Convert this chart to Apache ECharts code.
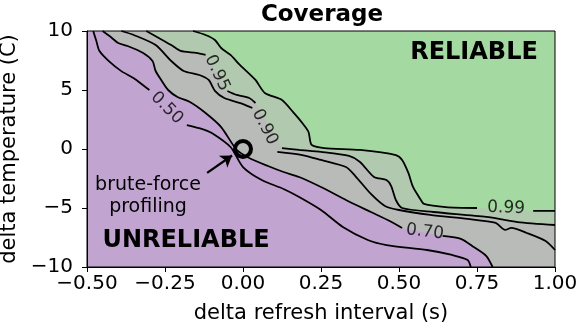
<!DOCTYPE html>
<html>
<head>
<meta charset="utf-8">
<script src="https://cdn.jsdelivr.net/npm/echarts@6/dist/echarts.min.js"></script>
<style>
html, body { margin: 0; padding: 0; background: #fff; }
#main { width: 581px; height: 329px; }
</style>
</head>
<body>
<div id="main"></div>
<script>
// contour lines, null = gap where the level label sits
var contour050 = [[-0.48, 10], [-0.47, 9.15], [-0.46, 8.3], [-0.43, 7.45], [-0.39, 6.6], [-0.35, 6.0], [-0.32, 5.4], [-0.30, 5.0], null,
    [-0.18, 2.03], [-0.13, 1.69], [-0.10, 1.36], [-0.04, 0.17], [0.0, -1.53], [0.06, -2.63], [0.13, -3.39], [0.18, -4.07],
    [0.25, -5.17], [0.32, -6.61], [0.40, -7.71], [0.46, -8.14], [0.59, -8.56], [0.67, -8.98], [0.72, -9.41], [0.73, -10]];
var contour070 = [[-0.45, 10], [-0.42, 9.41], [-0.40, 8.98], [-0.37, 8.73], [-0.32, 8.14], [-0.29, 7.46], [-0.28, 6.61], [-0.26, 5.76],
    [-0.24, 5.0], [-0.21, 4.41], [-0.17, 3.98], [-0.12, 3.05], [-0.07, 1.86], [-0.02, -0.08], [0.02, -0.76], [0.08, -1.44],
    [0.13, -1.95], [0.18, -2.37], [0.25, -3.22], [0.33, -4.32], [0.41, -5.34], [0.47, -6.10], [0.51, -6.69], null,
    [0.64, -7.37], [0.70, -7.63], [0.74, -8.31], [0.78, -9.07], [0.80, -10]];
var contour090 = [[-0.39, 10], [-0.35, 9.66], [-0.28, 8.81], [-0.23, 7.46], [-0.19, 6.61], [-0.14, 6.27], [-0.11, 5.85], [-0.09, 4.92],
    [-0.06, 4.32], [0.0, 3.81], [0.03, 3.47], null, [0.11, -0.25], [0.19, -0.51], [0.25, -0.93], [0.33, -1.53], [0.36, -2.29],
    [0.41, -3.81], [0.455, -4.83], [0.50, -5.17], [0.60, -5.59], [0.72, -5.93], [0.81, -6.27], [0.84, -6.86], [0.86, -6.69],
    [0.91, -7.12], [0.97, -7.80], [1.0, -8.56]];
var contour095 = [[-0.31, 10], [-0.27, 9.41], [-0.23, 8.81], [-0.20, 8.31], [-0.15, 8.14], [-0.12, 7.97], null, [-0.05, 4.92],
    [-0.02, 4.58], [0.02, 4.32], [0.04, 3.90], null, [0.125, 0.08], [0.18, -0.08], [0.25, -0.25], [0.34, -0.59], [0.375, -1.10],
    [0.42, -2.37], [0.46, -2.63], [0.475, -3.14], [0.49, -4.32], [0.51, -5.0], [0.61, -5.34], [0.78, -5.76], [0.88, -6.19], [1.0, -6.44]];
var contour099 = [[-0.16, 10], [-0.12, 9.66], [-0.09, 9.24], [-0.07, 8.56], [-0.04, 7.97], [-0.01, 7.12], [0.04, 5.85], [0.07, 4.75],
    [0.125, 4.15], [0.16, 3.14], [0.19, 2.20], [0.21, 1.44], [0.22, 0.34], [0.26, 0.08], [0.375, -0.08], [0.49, -0.51], [0.51, -0.93],
    [0.53, -2.03], [0.545, -3.22], [0.57, -4.32], [0.58, -4.66], [0.65, -4.92], [0.75, -5.0], null, [0.93, -5.25], [1.0, -5.25]];

var levelNames = ['0.50', '0.70', '0.90', '0.95', '0.99'];
var levelLabelPos = [[-0.244, 3.47], [0.583, -7.03], [0.07, 1.86], [-0.083, 6.44], [0.843, -5.0]];
var levelLabelAngle = [-45, -7, -63, -65, -2];

var regionColors = ['#c2a4d0', '#b9bbb9', '#b1c9ae', '#a4d9a1'];
var profilingPoint = [0, 0];
var arrowFrom = [-0.115, -2.03];
var arrowTo = [-0.035, -0.55];

var xMin = -0.5, xMax = 1.0, yMin = -10, yMax = 10;

function clean(arr) {
    return arr.filter(function (p) { return p; });
}
// filled bands: below 0.70 purple, 0.70-0.95 gray, 0.95-0.99 grey-green, above 0.99 green
var regions = [
    [[xMin, yMin], [xMin, yMax], [xMax, yMax], [xMax, yMin]],
    clean(contour070).concat([[xMax, yMin], [xMax, yMax]]),
    clean(contour095).concat([[xMax, yMax]]),
    clean(contour099).concat([[xMax, yMax]])
];

function minus(s) {
    return String(s).replace('-', '\u2212');
}

var font = 'DejaVu Sans';
var chart = echarts.init(document.getElementById('main'));

var contourSeries = [contour050, contour070, contour090, contour095, contour099].map(function (arr, i) {
    return {
        type: 'line',
        name: levelNames[i],
        data: arr.map(function (p) { return p ? p : ['-', '-']; }),
        showSymbol: false,
        symbol: 'none',
        smooth: 0.25,
        connectNulls: false,
        lineStyle: { color: '#000', width: 1.8 },
        z: 3,
        silent: true
    };
});

var option = {
    animation: false,
    backgroundColor: '#fff',
    textStyle: { fontFamily: font },
    grid: { left: 87, right: 26, top: 31, bottom: 62, outerBoundsMode: 'none',
        show: true, borderColor: '#000', borderWidth: 1, z: 10 },
    xAxis: {
        type: 'value', min: xMin, max: xMax, interval: 0.25,
        name: 'delta refresh interval (s)', nameLocation: 'middle', nameGap: 36,
        nameTextStyle: { fontSize: 21, color: '#000', fontFamily: font },
        splitLine: { show: false },
        axisLine: { onZero: false, lineStyle: { color: '#000', width: 1 } },
        axisTick: { length: 5, lineStyle: { color: '#000' } },
        axisLabel: { fontSize: 20, color: '#000', fontFamily: font, margin: 7,
            formatter: function (v) { return minus(v.toFixed(2)); } },
        z: 10
    },
    yAxis: {
        type: 'value', min: yMin, max: yMax, interval: 5,
        name: 'delta temperature (C)', nameLocation: 'middle', nameGap: 60,
        nameTextStyle: { fontSize: 21, color: '#000', fontFamily: font },
        splitLine: { show: false },
        axisLine: { onZero: false, lineStyle: { color: '#000', width: 1 } },
        axisTick: { length: 5, lineStyle: { color: '#000' } },
        axisLabel: { fontSize: 20, color: '#000', fontFamily: font, margin: 14,
            formatter: function (v) { return minus(v); } },
        z: 10
    },
    graphic: [
        { type: 'text', x: 322, y: 15, z: 20,
          style: { text: 'Coverage', fontSize: 23, fontWeight: 'bold', fontFamily: font, fill: '#000', align: 'center', verticalAlign: 'middle' } },
        { type: 'text', x: 474, y: 53, z: 20,
          style: { text: 'RELIABLE', fontSize: 24, fontWeight: 'bold', fontFamily: font, fill: '#000', align: 'center', verticalAlign: 'middle' } },
        { type: 'text', x: 186, y: 241, z: 20,
          style: { text: 'UNRELIABLE', fontSize: 24, fontWeight: 'bold', fontFamily: font, fill: '#000', align: 'center', verticalAlign: 'middle' } },
        { type: 'text', x: 148, y: 196, z: 20,
          style: { text: 'brute-force\nprofiling', fontSize: 19, lineHeight: 22, fontFamily: font, fill: '#000', align: 'center', verticalAlign: 'middle' } }
    ],
    series: [
        {
            type: 'custom',
            data: regions.map(function (r, i) { return [i]; }),
            encode: { x: 0 },
            clip: true,
            silent: true,
            z: 1,
            renderItem: function (params, api) {
                var pts = regions[params.dataIndex].map(function (p) { return api.coord(p); });
                return { type: 'polygon', shape: { points: pts }, style: { fill: regionColors[params.dataIndex], stroke: null } };
            }
        }
    ].concat(contourSeries).concat([
        {
            type: 'scatter',
            data: levelLabelPos.map(function (p, i) {
                return { value: p, label: { formatter: levelNames[i], rotate: levelLabelAngle[i] } };
            }),
            symbolSize: 0,
            silent: true,
            z: 4,
            label: { show: true, position: 'inside', fontSize: 17, color: '#000', fontFamily: font }
        },
        {
            type: 'scatter',
            data: [profilingPoint],
            symbol: 'circle',
            symbolSize: 16,
            itemStyle: { color: 'rgba(0,0,0,0)', borderColor: '#000', borderWidth: 4, opacity: 1 },
            silent: true,
            z: 5,
            markLine: {
                silent: true,
                symbol: ['none', 'arrow'],
                symbolSize: 11,
                label: { show: false },
                lineStyle: { color: '#000', width: 2.2, type: 'solid', opacity: 1 },
                data: [[{ coord: arrowFrom }, { coord: arrowTo }]]
            }
        }
    ])
};
chart.setOption(option);
</script>
</body>
</html>
